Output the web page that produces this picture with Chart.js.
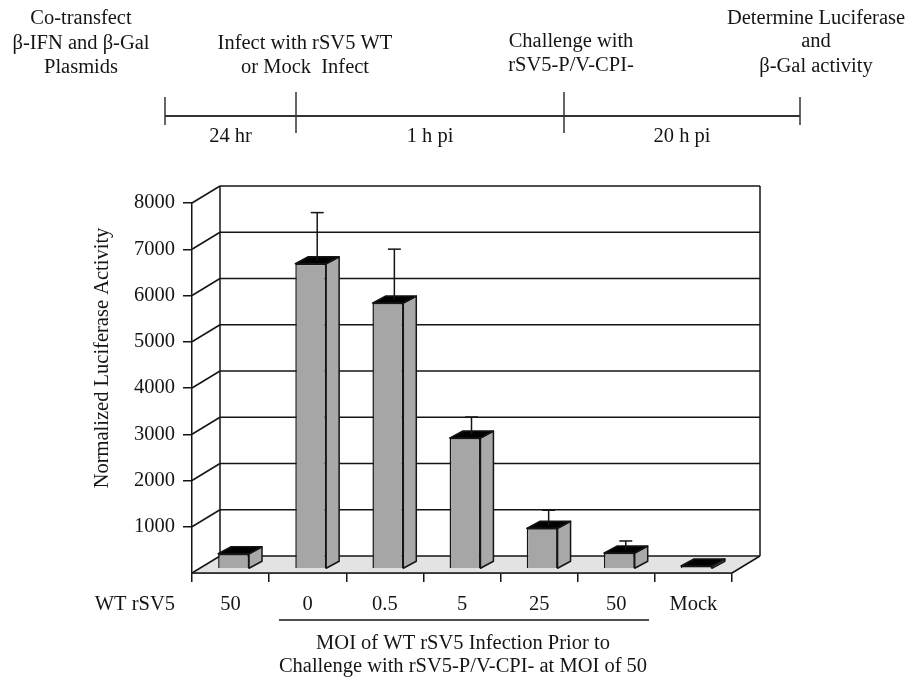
<!DOCTYPE html>
<html>
<head>
<meta charset="utf-8">
<script src="https://cdn.jsdelivr.net/npm/chart.js@4.4.1/dist/chart.umd.min.js"></script>
<style>
  html, body { margin: 0; padding: 0; background: #fff; }
  #wrap { position: relative; width: 907px; height: 681px; }
</style>
</head>
<body>
<div id="wrap"><canvas id="lucChart"></canvas></div>
<script>
// data
var categories = ["50", "0", "0.5", "5", "25", "50", "Mock"];
var luciferase = [330, 6600, 5750, 2830, 880, 345, 65];
var errorPlus = [0, 1030, 1090, 380, 315, 185, 0];
var yTicks = [0, 1000, 2000, 3000, 4000, 5000, 6000, 7000, 8000];

// timeline above the chart
var stepTexts = [
  ["Co-transfect", "\u03b2-IFN and \u03b2-Gal", "Plasmids"],
  ["Infect with rSV5 WT", "or Mock  Infect"],
  ["Challenge with", "rSV5-P/V-CPI-"],
  ["Determine Luciferase", "and", "\u03b2-Gal activity"]
];
var spanTexts = ["24 hr", "1 h pi", "20 h pi"];

var serif = '"Liberation Serif", "Times New Roman", serif';
var FS = 20.5;
var INK = "#151515";

// 3d look: back wall offset and bar depth
var WX = 28, WY = -17;
var BX = 13, BY = -7;
var SX = 3, SY = -4;

function seg(ctx, x1, y1, x2, y2) {
  ctx.beginPath();
  ctx.moveTo(x1, y1);
  ctx.lineTo(x2, y2);
  ctx.stroke();
}

var box3d = {
  id: "box3d",
  beforeDatasetsDraw: function (chart) {
    var ctx = chart.ctx, a = chart.chartArea, ys = chart.scales.y;
    ctx.save();
    // floor
    ctx.fillStyle = "#e3e3e3";
    ctx.beginPath();
    ctx.moveTo(a.left, a.bottom);
    ctx.lineTo(a.right, a.bottom);
    ctx.lineTo(a.right + WX, a.bottom + WY);
    ctx.lineTo(a.left + WX, a.bottom + WY);
    ctx.closePath();
    ctx.fill();

    ctx.strokeStyle = INK;
    ctx.lineWidth = 1.5;
    yTicks.forEach(function (v) {
      var py = ys.getPixelForValue(v);
      seg(ctx, a.left, py, a.left + WX, py + WY);
      seg(ctx, a.left + WX, py + WY, a.right + WX, py + WY);
    });
    seg(ctx, a.left + WX, a.top + WY, a.left + WX, a.bottom + WY);
    seg(ctx, a.right + WX, a.top + WY, a.right + WX, a.bottom + WY);
    seg(ctx, a.right, a.bottom, a.right + WX, a.bottom + WY);
    seg(ctx, a.left, a.bottom, a.right, a.bottom);
    ctx.restore();

    // bars sit a little back on the floor
    ctx.save();
    ctx.translate(SX, SY);
  },
  afterDatasetsDraw: function (chart) {
    var ctx = chart.ctx, ys = chart.scales.y;
    ctx.restore();
    var bars = chart.getDatasetMeta(0).data;
    ctx.save();
    ctx.strokeStyle = INK;
    ctx.lineWidth = 1.5;
    ctx.lineJoin = "round";
    bars.forEach(function (b, i) {
      var p = b.getProps(["x", "y", "base", "width"], true);
      var l = p.x - p.width / 2 + SX, r = p.x + p.width / 2 + SX;
      var t = p.y + SY, bt = p.base + SY;
      // side
      ctx.fillStyle = "#a9a9a9";
      ctx.beginPath();
      ctx.moveTo(r, t);
      ctx.lineTo(r + BX, t + BY);
      ctx.lineTo(r + BX, bt + BY);
      ctx.lineTo(r, bt);
      ctx.closePath();
      ctx.fill();
      ctx.stroke();
      // top
      ctx.fillStyle = "#000";
      ctx.beginPath();
      ctx.moveTo(l, t);
      ctx.lineTo(l + BX, t + BY);
      ctx.lineTo(r + BX, t + BY);
      ctx.lineTo(r, t);
      ctx.closePath();
      ctx.fill();
      ctx.stroke();
      // error bar (upper only)
      if (errorPlus[i] > 0) {
        var cx = p.x + SX + BX / 2;
        var y0 = t + BY / 2;
        var y1 = ys.getPixelForValue(luciferase[i] + errorPlus[i]) + SY + BY / 2;
        seg(ctx, cx, y0, cx, y1);
        seg(ctx, cx - 6.5, y1, cx + 6.5, y1);
      }
    });
    ctx.restore();
  },
  afterDraw: function (chart) {
    var ctx = chart.ctx, a = chart.chartArea;
    ctx.save();
    ctx.fillStyle = INK;
    ctx.font = FS + "px " + serif;
    ctx.textBaseline = "middle";

    // y title
    ctx.save();
    ctx.translate(103, 358);
    ctx.rotate(-Math.PI / 2);
    ctx.textAlign = "center";
    ctx.fillText("Normalized Luciferase Activity", 0, 0);
    ctx.restore();

    // row label and caption under the categories
    ctx.textAlign = "right";
    ctx.fillText("WT rSV5", 175, 605);
    ctx.textAlign = "center";
    ctx.fillText("MOI of WT rSV5 Infection Prior to", 463, 644);
    ctx.fillText("Challenge with rSV5-P/V-CPI- at MOI of 50", 463, 667);
    ctx.strokeStyle = INK;
    ctx.lineWidth = 1.5;
    seg(ctx, 279, 620, 649, 620);

    // timeline
    var stepX = [81, 305, 571, 816];
    var stepY = [[19, 44, 68], [44, 68], [42, 66], [19, 42, 67]];
    stepTexts.forEach(function (lines, i) {
      lines.forEach(function (s, j) {
        ctx.fillText(s, stepX[i], stepY[i][j]);
      });
    });
    ctx.strokeStyle = "#333";
    ctx.lineWidth = 2;
    seg(ctx, 165, 116, 800, 116);
    ctx.lineWidth = 1.5;
    seg(ctx, 165, 97, 165, 125);
    seg(ctx, 296, 92, 296, 133);
    seg(ctx, 564, 92, 564, 133);
    seg(ctx, 800, 97, 800, 125);
    var spanX = [230.5, 430, 682];
    spanTexts.forEach(function (s, i) {
      ctx.fillText(s, spanX[i], 137);
    });
    ctx.restore();
  }
};

var tickFont = { family: serif, size: FS };

var ctx = document.getElementById("lucChart").getContext("2d");
var myChart = new Chart(ctx, {
  type: "bar",
  data: {
    labels: categories,
    datasets: [
      {
        data: luciferase,
        backgroundColor: "#a6a6a6",
        borderColor: INK,
        borderWidth: 1.5,
        categoryPercentage: 1,
        barPercentage: 0.4,
      },
    ],
  },
  options: {
    responsive: true,
    maintainAspectRatio: false,
    animation: false,
    layout: { padding: { left: 80, right: 175, top: 203, bottom: 0 } },
    plugins: {
      legend: { display: false },
      tooltip: { enabled: false },
    },
    scales: {
      x: {
        grid: { offset: true, drawOnChartArea: false, tickLength: 9, color: INK, lineWidth: 1.5 },
        border: { color: INK, width: 1.5 },
        ticks: { font: tickFont, color: INK, padding: 10, maxRotation: 0 },
        afterFit: function (s) { s.height = 108; },
      },
      y: {
        min: 0,
        max: 8000,
        ticks: {
          stepSize: 1000,
          font: tickFont,
          color: INK,
          padding: 8,
          callback: function (v) { return v === 0 ? "" : String(v); },
        },
        grid: {
          drawOnChartArea: false,
          tickLength: 9,
          lineWidth: 1.5,
          color: function (c) { return c.tick && c.tick.value === 0 ? "rgba(0,0,0,0)" : INK; },
        },
        border: { color: INK, width: 1.5 },
        afterFit: function (s) { s.width = 112; },
      },
    },
  },
  plugins: [box3d],
});
</script>
</body>
</html>
